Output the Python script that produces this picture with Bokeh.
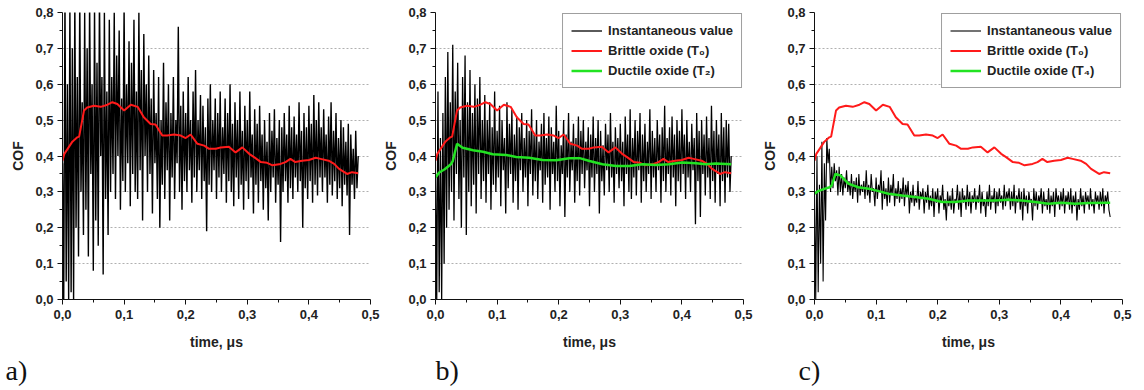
from bokeh.plotting import figure
from bokeh.models import FixedTicker, CustomJSTickFormatter, Title
from bokeh.layouts import row
from bokeh.embed import file_html
from bokeh.resources import INLINE

# ---------------- data ----------------
NOISE_STEP = 0.002  # sampling step of the instantaneous signal, in µs

noise_a = [
    0.38, 0.00, 0.85, 0.05, 0.60, 0.00, 0.82, 0.02, 0.70, 0.00,
    0.84, 0.20, 0.62, 0.12, 0.85, 0.30, 0.55, 0.18, 0.80, 0.25,
    0.70, 0.12, 0.84, 0.35, 0.60, 0.08, 0.82, 0.22, 0.66, 0.15,
    0.85, 0.40, 0.62, 0.07, 0.80, 0.28, 0.58, 0.18, 0.78, 0.30,
    0.62, 0.35, 0.80, 0.28, 0.68, 0.40, 0.75, 0.25, 0.56, 0.33,
    0.82, 0.30, 0.60, 0.38, 0.72, 0.26, 0.66, 0.35, 0.78, 0.30,
    0.58, 0.28, 0.80, 0.36, 0.64, 0.22, 0.74, 0.40, 0.60, 0.30,
    0.68, 0.35, 0.56, 0.24, 0.64, 0.38, 0.52, 0.28, 0.62, 0.20,
    0.50, 0.32, 0.66, 0.28, 0.55, 0.36, 0.60, 0.22, 0.52, 0.34,
    0.62, 0.28, 0.50, 0.38, 0.76, 0.30, 0.54, 0.25, 0.58, 0.33,
    0.52, 0.30, 0.62, 0.36, 0.50, 0.27, 0.58, 0.34, 0.64, 0.30,
    0.50, 0.36, 0.57, 0.28, 0.54, 0.33, 0.48, 0.19, 0.56, 0.32,
    0.60, 0.30, 0.50, 0.36, 0.56, 0.28, 0.52, 0.34, 0.58, 0.30,
    0.48, 0.35, 0.56, 0.27, 0.52, 0.33, 0.60, 0.30, 0.49, 0.26,
    0.55, 0.34, 0.50, 0.28, 0.58, 0.32, 0.47, 0.25, 0.54, 0.33,
    0.50, 0.28, 0.58, 0.34, 0.46, 0.24, 0.53, 0.32, 0.49, 0.27,
    0.54, 0.33, 0.46, 0.25, 0.50, 0.31, 0.44, 0.22, 0.52, 0.30,
    0.47, 0.34, 0.53, 0.27, 0.45, 0.32, 0.50, 0.16, 0.48, 0.30,
    0.52, 0.33, 0.46, 0.27, 0.54, 0.31, 0.48, 0.28, 0.51, 0.34,
    0.46, 0.30, 0.55, 0.33, 0.47, 0.20, 0.52, 0.31, 0.48, 0.28,
    0.54, 0.33, 0.49, 0.27, 0.57, 0.32, 0.50, 0.29, 0.55, 0.34,
    0.48, 0.30, 0.53, 0.34, 0.46, 0.27, 0.51, 0.32, 0.55, 0.29,
    0.47, 0.33, 0.52, 0.28, 0.45, 0.31, 0.50, 0.26, 0.48, 0.32,
    0.44, 0.29, 0.49, 0.18, 0.46, 0.32, 0.42, 0.28, 0.47, 0.31,
    0.40,
]

noise_b = [
    0.35, 0.00, 0.58, 0.02, 0.45, 0.00, 0.52, 0.10, 0.62, 0.20,
    0.69, 0.25, 0.55, 0.30, 0.71, 0.22, 0.58, 0.35, 0.66, 0.28,
    0.50, 0.20, 0.62, 0.34, 0.68, 0.18, 0.55, 0.30, 0.64, 0.26,
    0.52, 0.32, 0.60, 0.24, 0.56, 0.35, 0.62, 0.28, 0.50, 0.33,
    0.57, 0.27, 0.50, 0.35, 0.55, 0.25, 0.48, 0.32, 0.58, 0.30,
    0.47, 0.34, 0.54, 0.26, 0.50, 0.36, 0.45, 0.24, 0.55, 0.31,
    0.49, 0.35, 0.53, 0.27, 0.46, 0.33, 0.51, 0.25, 0.48, 0.36,
    0.52, 0.30, 0.45, 0.34, 0.50, 0.26, 0.47, 0.35, 0.53, 0.29,
    0.46, 0.33, 0.50, 0.28, 0.44, 0.36, 0.49, 0.27, 0.52, 0.32,
    0.45, 0.34, 0.51, 0.25, 0.48, 0.35, 0.44, 0.30, 0.54, 0.33,
    0.47, 0.26, 0.43, 0.35, 0.50, 0.23, 0.46, 0.34, 0.52, 0.30,
    0.44, 0.36, 0.49, 0.27, 0.45, 0.33, 0.51, 0.29, 0.47, 0.35,
    0.50, 0.31, 0.44, 0.36, 0.48, 0.26, 0.46, 0.34, 0.51, 0.30,
    0.45, 0.35, 0.50, 0.24, 0.47, 0.33, 0.43, 0.29, 0.49, 0.36,
    0.46, 0.30, 0.52, 0.34, 0.44, 0.27, 0.48, 0.35, 0.45, 0.31,
    0.49, 0.33, 0.44, 0.26, 0.51, 0.35, 0.46, 0.30, 0.53, 0.28,
    0.45, 0.34, 0.50, 0.29, 0.47, 0.36, 0.52, 0.27, 0.46, 0.33,
    0.49, 0.30, 0.44, 0.35, 0.53, 0.28, 0.47, 0.34, 0.45, 0.30,
    0.50, 0.36, 0.46, 0.27, 0.48, 0.33, 0.54, 0.30, 0.45, 0.35,
    0.48, 0.29, 0.51, 0.34, 0.46, 0.26, 0.50, 0.33, 0.47, 0.30,
    0.53, 0.35, 0.46, 0.28, 0.50, 0.34, 0.44, 0.30, 0.49, 0.36,
    0.45, 0.21, 0.52, 0.33, 0.47, 0.23, 0.50, 0.35, 0.46, 0.29,
    0.51, 0.34, 0.45, 0.28, 0.54, 0.33, 0.47, 0.27, 0.50, 0.35,
    0.46, 0.26, 0.52, 0.33, 0.48, 0.27, 0.50, 0.34, 0.49, 0.30,
    0.40,
]

noise_c = [
    0.30, 0.00, 0.40, 0.02, 0.32, 0.10, 0.44, 0.05, 0.38, 0.22,
    0.45, 0.38, 0.42, 0.30, 0.37, 0.31, 0.38, 0.33, 0.36, 0.29,
    0.37, 0.30, 0.35, 0.29, 0.34, 0.31, 0.36, 0.30, 0.33, 0.29,
    0.35, 0.28, 0.33, 0.30, 0.34, 0.27, 0.35, 0.29, 0.32, 0.30,
    0.33, 0.28, 0.36, 0.29, 0.32, 0.27, 0.35, 0.30, 0.31, 0.26,
    0.34, 0.28, 0.32, 0.30, 0.36, 0.25, 0.33, 0.28, 0.31, 0.26,
    0.34, 0.27, 0.32, 0.29, 0.35, 0.26, 0.31, 0.28, 0.33, 0.27,
    0.31, 0.28, 0.34, 0.26, 0.32, 0.29, 0.33, 0.24, 0.30, 0.27,
    0.32, 0.26, 0.29, 0.27, 0.33, 0.25, 0.30, 0.28, 0.31, 0.24,
    0.30, 0.27, 0.32, 0.25, 0.29, 0.26, 0.31, 0.23, 0.30, 0.27,
    0.31, 0.24, 0.29, 0.27, 0.32, 0.25, 0.28, 0.22, 0.30, 0.26,
    0.29, 0.25, 0.31, 0.24, 0.28, 0.27, 0.32, 0.25, 0.30, 0.23,
    0.31, 0.27, 0.29, 0.25, 0.32, 0.26, 0.30, 0.24, 0.29, 0.27,
    0.31, 0.25, 0.29, 0.27, 0.32, 0.24, 0.30, 0.26, 0.28, 0.23,
    0.30, 0.26, 0.32, 0.25, 0.29, 0.27, 0.31, 0.24, 0.30, 0.26,
    0.31, 0.27, 0.29, 0.25, 0.32, 0.26, 0.30, 0.28, 0.31, 0.25,
    0.30, 0.26, 0.32, 0.24, 0.29, 0.27, 0.31, 0.25, 0.30, 0.22,
    0.31, 0.26, 0.29, 0.24, 0.30, 0.27, 0.28, 0.22, 0.31, 0.26,
    0.30, 0.25, 0.29, 0.27, 0.31, 0.24, 0.30, 0.26, 0.28, 0.25,
    0.31, 0.24, 0.29, 0.26, 0.30, 0.23, 0.31, 0.27, 0.29, 0.25,
    0.30, 0.26, 0.31, 0.24, 0.29, 0.27, 0.30, 0.25, 0.31, 0.24,
    0.29, 0.26, 0.30, 0.22, 0.28, 0.25, 0.31, 0.26, 0.29, 0.24,
    0.30, 0.27, 0.29, 0.25, 0.31, 0.26, 0.28, 0.24, 0.30, 0.27,
    0.29, 0.25, 0.30, 0.26, 0.31, 0.24, 0.29, 0.27, 0.30, 0.25,
    0.23,
]

brittle_t = [0.0, 0.003, 0.016, 0.024, 0.027, 0.035, 0.040, 0.051, 0.062, 0.073,
             0.081, 0.089, 0.100, 0.111, 0.122, 0.132, 0.143, 0.151, 0.162, 0.170,
             0.181, 0.192, 0.200, 0.208, 0.219, 0.230, 0.238, 0.249, 0.257, 0.270,
             0.281, 0.292, 0.303, 0.311, 0.322, 0.332, 0.341, 0.354, 0.362, 0.370,
             0.378, 0.389, 0.400, 0.411, 0.419, 0.432, 0.441, 0.449, 0.462, 0.470, 0.480]
brittle_v = [0.387, 0.406, 0.440, 0.452, 0.454, 0.527, 0.535, 0.540, 0.537, 0.543,
             0.550, 0.545, 0.527, 0.543, 0.537, 0.508, 0.489, 0.488, 0.457, 0.457,
             0.460, 0.457, 0.450, 0.460, 0.434, 0.429, 0.420, 0.420, 0.424, 0.426,
             0.410, 0.424, 0.406, 0.397, 0.383, 0.381, 0.374, 0.378, 0.383, 0.392,
             0.383, 0.387, 0.389, 0.395, 0.392, 0.387, 0.378, 0.364, 0.350, 0.355, 0.352]

ductile_b_t = [0.0, 0.006, 0.015, 0.025, 0.028, 0.035, 0.044, 0.061, 0.077, 0.093,
               0.115, 0.131, 0.152, 0.174, 0.196, 0.217, 0.234, 0.250, 0.271, 0.293,
               0.315, 0.336, 0.358, 0.379, 0.401, 0.423, 0.439, 0.455, 0.480]
ductile_b_v = [0.340, 0.354, 0.363, 0.377, 0.386, 0.434, 0.423, 0.416, 0.412, 0.405,
               0.403, 0.397, 0.395, 0.389, 0.388, 0.394, 0.394, 0.386, 0.377, 0.372,
               0.372, 0.377, 0.375, 0.377, 0.382, 0.380, 0.377, 0.379, 0.377]

ductile_c_t = [0.0, 0.006, 0.017, 0.025, 0.028, 0.034, 0.042, 0.055, 0.071, 0.088,
               0.104, 0.120, 0.142, 0.163, 0.185, 0.207, 0.228, 0.250, 0.272, 0.293,
               0.315, 0.337, 0.358, 0.380, 0.401, 0.423, 0.445, 0.480]
ductile_c_v = [0.295, 0.302, 0.309, 0.313, 0.318, 0.350, 0.346, 0.323, 0.313, 0.309,
               0.302, 0.295, 0.290, 0.286, 0.281, 0.272, 0.272, 0.276, 0.276, 0.276,
               0.278, 0.276, 0.272, 0.267, 0.270, 0.267, 0.269, 0.270]

y_ticks = [0.0, 0.1, 0.2, 0.3, 0.4, 0.5, 0.6, 0.7, 0.8]
x_ticks = [0.0, 0.1, 0.2, 0.3, 0.4, 0.5]
panel_labels = ["a)", "b)", "c)"]
legend_labels = ["Instantaneous value", "Brittle oxide (T\u2080)"]
ductile_labels = ["Ductile oxide (T\u2082)", "Ductile oxide (T\u2084)"]

RED = "#ff1a1a"
GREEN = "#22e322"
FONT = "Liberation Sans"

fmt = CustomJSTickFormatter(code="return tick.toFixed(1).replace('.', ',');")


def make_fig(left, right, label, label_dx):
    p = figure(frame_width=308, frame_height=287, x_range=(0, 0.5), y_range=(0, 0.8),
               min_border_left=left, min_border_right=right, min_border_top=12,
               min_border_bottom=90, output_backend="svg", toolbar_location=None)
    p.outline_line_color = None
    p.xgrid.grid_line_color = None
    p.ygrid.grid_line_color = "#b0b0b0"
    p.ygrid.grid_line_dash = "2 2"
    p.ygrid.grid_line_width = 1
    p.xaxis.ticker = FixedTicker(ticks=x_ticks, minor_ticks=[0.05, 0.15, 0.25, 0.35, 0.45])
    p.yaxis.ticker = FixedTicker(ticks=y_ticks,
                                 minor_ticks=[0.05, 0.15, 0.25, 0.35, 0.45, 0.55, 0.65, 0.75])
    for ax in (p.xaxis, p.yaxis):
        ax.formatter = fmt
        ax.axis_line_color = "#111111"
        ax.major_tick_line_color = "#111111"
        ax.minor_tick_line_color = "#111111"
        ax.major_tick_in = 0
        ax.major_tick_out = 5
        ax.minor_tick_in = 0
        ax.minor_tick_out = 3
        ax.major_label_text_font = FONT
        ax.major_label_text_font_style = "bold"
        ax.major_label_text_font_size = "13px"
        ax.major_label_text_color = "#222222"
        ax.axis_label_text_font = FONT
        ax.axis_label_text_font_style = "bold"
        ax.axis_label_text_font_size = "14px"
        ax.axis_label_text_color = "#222222"
    p.xaxis.axis_label = "time, \u03bcs"
    p.yaxis.axis_label = "COF"
    p.xaxis.major_label_standoff = 5
    p.xaxis.axis_label_standoff = 12
    p.yaxis.major_label_standoff = 4
    p.yaxis.axis_label_standoff = 6
    p.add_layout(Title(text=label, align="left", offset=label_dx,
                       text_font="Liberation Serif", text_font_size="28px",
                       text_font_style="normal", text_color="#111111", standoff=0), "below")
    return p


noise_t = [round(i * NOISE_STEP, 4) for i in range(len(noise_a))]

# panel a
pa = make_fig(62, 10, panel_labels[0], -57)
pa.line(noise_t, noise_a, line_color="black", line_width=1.4)
pa.line(brittle_t, brittle_v, line_color=RED, line_width=2)

# panel b
pb = make_fig(53, 16, panel_labels[1], 0)
pb.line(noise_t, noise_b, line_color="black", line_width=1.3, legend_label=legend_labels[0])
pb.line(brittle_t, brittle_v, line_color=RED, line_width=2, legend_label=legend_labels[1])
pb.line(ductile_b_t, ductile_b_v, line_color=GREEN, line_width=2.5, legend_label=ductile_labels[0])

# panel c
pc = make_fig(53, 15, panel_labels[2], -16)
pc.line(noise_t, noise_c, line_color="black", line_width=1.1, legend_label=legend_labels[0])
pc.line(brittle_t, brittle_v, line_color=RED, line_width=2, legend_label=legend_labels[1])
pc.line(ductile_c_t, ductile_c_v, line_color=GREEN, line_width=2.5, legend_label=ductile_labels[1])

for p in (pb, pc):
    lg = p.legend[0]
    lg.location = "top_right"
    lg.margin = 1
    lg.padding = 8
    lg.spacing = 3
    lg.label_standoff = 6
    lg.glyph_width = 31
    lg.glyph_height = 17
    lg.label_height = 17
    lg.label_text_font = FONT
    lg.label_text_font_style = "bold"
    lg.label_text_font_size = "13px"
    lg.label_text_color = "#222222"
    lg.border_line_color = "#404040"
    lg.border_line_width = 1.5
    lg.background_fill_color = "white"
    lg.background_fill_alpha = 1.0

layout = row(pa, pb, pc)
open("out.html", "w").write(file_html(layout, INLINE))
